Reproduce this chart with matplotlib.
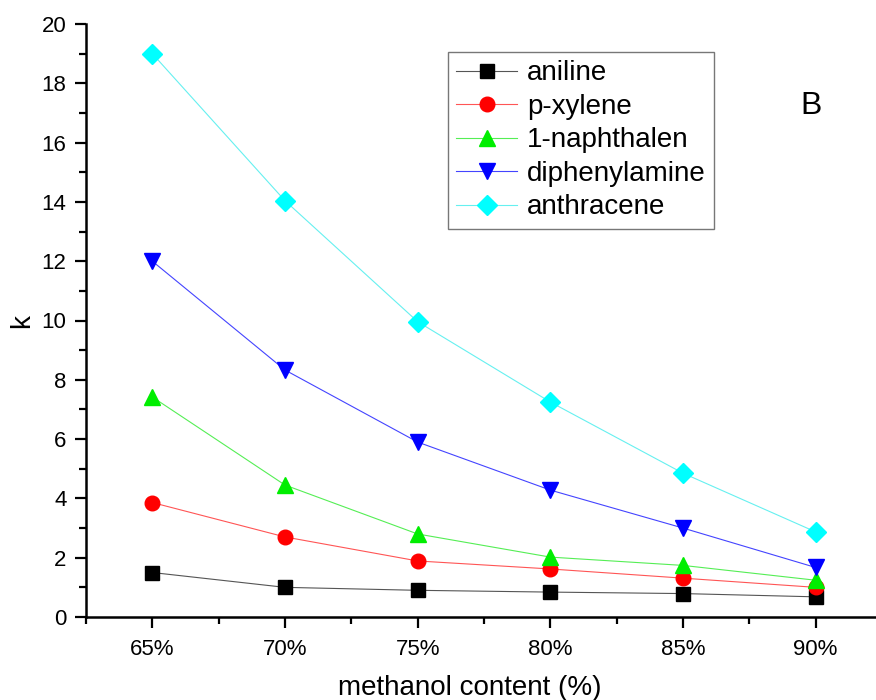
import numpy as np
import matplotlib
matplotlib.use("Agg")
import matplotlib.pyplot as plt
from matplotlib.ticker import MultipleLocator, FixedLocator

plt.rcParams['font.family'] = ['Liberation Sans', 'DejaVu Sans']

methanol = [65, 70, 75, 80, 85, 90]
tick_labels = ["65%", "70%", "75%", "80%", "85%", "90%"]

aniline = [1.50, 1.00, 0.90, 0.84, 0.79, 0.68]
p_xylene = [3.86, 2.70, 1.89, 1.62, 1.31, 1.00]
naphthalen = [7.42, 4.45, 2.80, 2.02, 1.74, 1.24]
diphenylamine = [12.0, 8.33, 5.90, 4.28, 3.00, 1.67]
anthracene = [19.0, 14.04, 9.96, 7.25, 4.85, 2.87]

series = [
    ("aniline", aniline, "k", "s", 9.5, "#555555"),
    ("p-xylene", p_xylene, "red", "o", 10.5, "#ff5555"),
    ("1-naphthalen", naphthalen, "#00ee00", "^", 12, "#55ee55"),
    ("diphenylamine", diphenylamine, "blue", "v", 12, "#4444ff"),
    ("anthracene", anthracene, "cyan", "D", 10, "#66f0f0"),
]

fig = plt.figure(figsize=(8.76, 7.0), dpi=100)
ax = fig.add_axes([86 / 876, 1 - 617 / 700, (882 - 86) / 876, (617 - 24) / 700])

for name, vals, mc, mk, ms, lc in series:
    ax.plot(methanol, vals, color=lc, lw=0.8, marker=mk, ms=ms,
            markerfacecolor=mc, markeredgecolor=mc, label=name)

ax.set_xlim(62.5, 92.5)
ax.set_ylim(0, 20)
ax.xaxis.set_major_locator(FixedLocator(methanol))
ax.set_xticklabels(tick_labels)
ax.xaxis.set_minor_locator(MultipleLocator(2.5))
ax.yaxis.set_major_locator(MultipleLocator(2))
ax.yaxis.set_minor_locator(MultipleLocator(1))

for s in ["top", "right"]:
    ax.spines[s].set_visible(False)
for s in ["left", "bottom"]:
    ax.spines[s].set_linewidth(1.8)

ax.tick_params(which="major", direction="out", length=8, width=1.6, labelsize=16)
ax.tick_params(which="minor", direction="out", length=5, width=1.6)
ax.tick_params(axis="x", pad=8)
ax.tick_params(axis="y", pad=6)

ax.set_xlabel("methanol content (%)", fontsize=20)
ax.xaxis.set_label_coords(0.482, -0.098)
ax.set_ylabel("k", fontsize=20, labelpad=5)

leg = ax.legend(loc="upper left", bbox_to_anchor=(448 / 876, 1 - 52 / 700),
                bbox_transform=fig.transFigure, fontsize=20, frameon=True,
                fancybox=False, edgecolor="#555555", handlelength=2.2,
                handletextpad=0.35, labelspacing=0.27, borderpad=0.3,
                borderaxespad=0)
leg.get_frame().set_linewidth(1.0)

fig.text(811 / 876, 1 - 106 / 700, "B", fontsize=23, ha="center", va="center")

fig.savefig("out.png", dpi=100)
